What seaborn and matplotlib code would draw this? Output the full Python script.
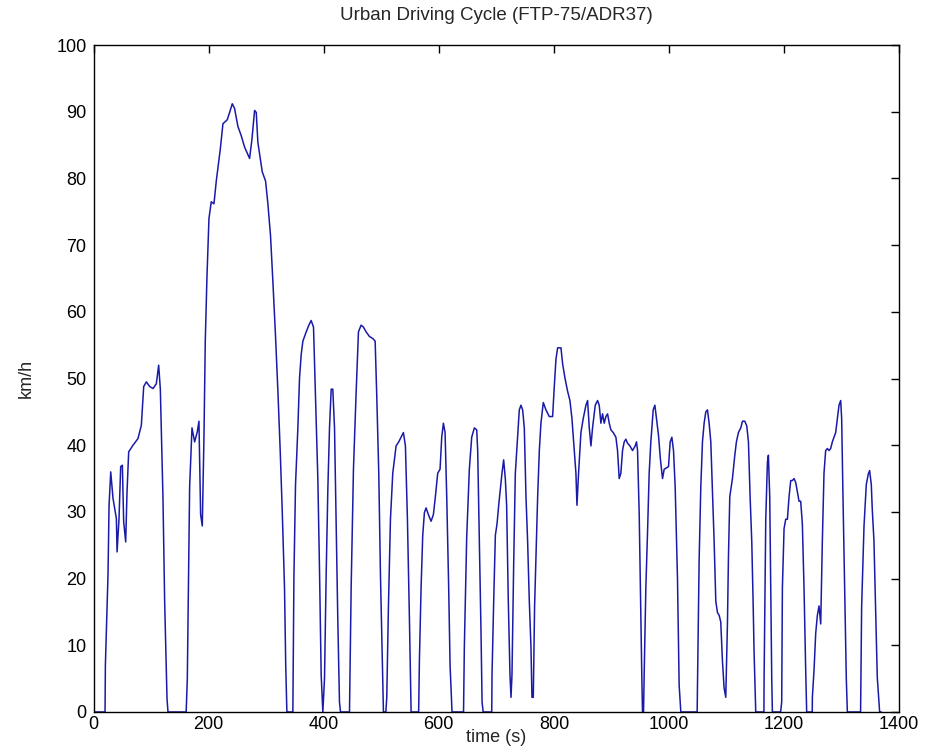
import matplotlib
matplotlib.use("Agg")
import matplotlib.pyplot as plt
import seaborn as sns
import pandas as pd

# ---- data (time in s, speed in km/h) ----
time_s = [
    0, 20, 20.6, 25.2, 27, 29.9, 33.9, 39.7, 40.9, 44.3, 47.2, 50.1, 52.4, 55.9, 58.2, 61.1,
    68.6, 77.3, 83.1, 87.2, 91.8, 97.6, 103.4, 109.1, 113.2, 116.1, 120.7, 123.6, 127.7, 129.4,
    161, 163, 165, 167, 171.1, 175.7, 180.3, 183.2, 186.1, 189, 191.9, 194.2, 197.1, 200.6,
    204.6, 209.3, 213.3, 220.3, 224.9, 232.4, 236.5, 241.1, 245.1, 250.9, 256.7, 262.5, 271.2,
    275.2, 279.9, 282.8, 285.6, 289.7, 293.2, 299, 303, 307.6, 311.7, 316.3, 320.4, 324.4,
    327.9, 331.9, 334, 336,
    346.4, 348.2, 351, 355.1, 358, 360.9, 363.8, 366.7, 369.6, 374.2, 378.2, 382.3, 385.2,
    389.8, 392.7, 395.6, 398.5, 401.4, 404.3, 407.2, 410.1, 413, 415.8, 418.8, 421.6, 424.5,
    427.4, 429.2,
    444.8, 447.7, 451.7, 456.4, 460.4, 465, 469.1, 473.7, 479.5, 485.3, 489.4, 492.2, 495.7,
    498.6, 501.5, 503.8,
    508, 509.6, 512.5, 516, 520, 525.8, 530.4, 534.5, 538.5, 542, 545.5, 549, 551.9,
    565, 566.3, 569.2, 572.1, 575, 577.9, 581.9, 586.6, 590.6, 594.1, 598.1, 602.2, 605.1,
    608, 610.9, 613.8, 617.2, 619.6, 623,
    643, 644.4, 648.5, 653.1, 657.2, 661.8, 665.9, 667.6, 670.5, 673.4, 675.2, 677.1,
    692, 692.5, 695.4, 698.3, 701.2, 704.1, 706.9, 709.8, 712.7, 715.6, 717.9, 720.8, 723.7,
    725.5, 727.2, 730.1, 733, 737, 739.9, 742.8, 745.7, 748.6, 751.5, 754.4, 757.3, 760.2,
    761.9, 764.2, 766.5, 768.9, 771.8, 774.7, 777.5, 781.6, 786.2, 792, 797.8, 800.7, 803.6,
    806.5, 812.3, 815.2, 819.2, 823.8, 827.9, 831.4, 835.4, 838.3, 840.1, 842.9, 847, 851,
    855.7, 858.6, 861.5, 864.4, 867.2, 871.9, 875.9, 878.8, 881.7, 884.6, 887.5, 890.4,
    893.3, 896.2, 899.1, 903.1, 907.8, 910.6, 913.5, 916.4, 919.3, 922.2, 925.1, 928, 932.1,
    936.7, 941.3, 943.6, 945.4, 948.3, 951.2, 952.9, 954, 955.8, 956.9, 959.8, 962.7, 965.6,
    968.5, 972.6, 975.5, 978.3, 981.8, 985, 988.8, 991.7, 995.7, 999.2, 1002.1, 1005, 1007.9,
    1010.8, 1014.8, 1017.7, 1020.6,
    1049, 1049.5, 1052.4, 1055.3, 1058.2, 1061.1, 1064, 1066.9, 1069.8, 1072.7, 1075.6,
    1078.5, 1081.4, 1084.3, 1087.2, 1090, 1092.9, 1095.8, 1098.7, 1101.6, 1103.4, 1105.7,
    1110.3, 1114.4, 1117.2, 1120.7, 1124.8, 1127.7, 1131.7, 1135.2, 1138.1, 1141, 1143.9,
    1146.2, 1147.9, 1150.8,
    1165, 1165.3, 1168.2, 1171.1, 1172.8, 1175.1, 1176.8, 1178.6, 1179.7,
    1194, 1195.9, 1197.1, 1200, 1202.9, 1205.8, 1208.7, 1211.6, 1214.4, 1217.4, 1220.3,
    1223.1, 1226, 1228.9, 1231.8, 1234.7, 1237.6, 1239.3,
    1249, 1249.2, 1252.1, 1255, 1257.9, 1260.8, 1263.7, 1266.5, 1269.4, 1272.3, 1275.2,
    1278.1, 1281, 1283.9, 1286.8, 1289.7, 1292.6, 1295.5, 1298.4, 1300.1, 1302.4, 1305.3,
    1308.2, 1310,
    1333, 1334.8, 1338.9, 1342.9, 1346.4, 1348.7, 1351.6, 1353.3, 1356.2, 1359.1, 1362,
    1364.9, 1366.1, 1369,
]

speed_kmh = [
    0, 0, 7, 20.7, 31, 36, 32, 29, 24, 29, 36.8, 37, 28.5, 25.5, 33, 39,
    40, 41, 43, 48.8, 49.5, 48.8, 48.5, 49.2, 52, 48.4, 32, 16.6, 2, 0,
    0, 5, 20, 33.7, 42.6, 40.5, 42, 43.6, 29.6, 27.9, 41.2, 55.6, 65.2, 74,
    76.5, 76.2, 79.6, 84.4, 88.2, 88.8, 89.9, 91.2, 90.5, 87.8, 86.4, 84.7, 83,
    85.8, 90.2, 89.9, 85.4, 83, 81, 79.6, 76.2, 71.4, 64.5, 56.3, 48.1, 39.2,
    30.3, 18.6, 7, 0,
    0, 20, 34, 42.6, 50.1, 53.6, 55.6, 56.3, 57, 58, 58.7, 57.7, 48.8,
    35, 21.4, 5.6, 0, 5, 20.7, 33.4, 42.6, 48.4, 48.4, 42.6, 28.9, 13.8,
    1.5, 0,
    0, 18.6, 36.4, 48, 57, 58, 57.7, 57, 56.3, 56, 55.6, 47.4, 35.8,
    20.7, 9, 0,
    0, 2.2, 15.9, 28.9, 35.8, 39.9, 40.5, 41.2, 41.9, 39.9, 28.9, 13.8, 0,
    0, 7.7, 18.6, 26.5, 29.9, 30.6, 29.6, 28.6, 29.6, 32.3, 35.8, 36.4, 41.2,
    43.3, 41.9, 32.3, 18.6, 7, 0,
    0, 9.7, 26.2, 36.4, 41.2, 42.6, 42.3, 39.2, 25.5, 11.8, 1.5, 0,
    0, 5.6, 16.6, 26.5, 28.2, 31, 33.4, 35.8, 37.8, 35, 31, 16.6, 5.6,
    2.2, 5.6, 22, 35.8, 41.2, 45.3, 46, 45.3, 42.6, 32.3, 25.5, 16.6, 9.7,
    2.2, 2.2, 15.9, 23.4, 32.3, 39.2, 43.3, 46.4, 45.3, 44.3, 44.3, 48.8, 52.9,
    54.6, 54.6, 52.2, 50.1, 48.1, 46.7, 44, 39.2, 35.8, 31, 35.8, 41.9, 44,
    46, 46.7, 42.6, 39.9, 42.6, 46, 46.7, 46, 43.3, 44.7, 43.3, 44.3,
    44.7, 43.3, 42.3, 41.9, 41.2, 39.2, 35, 35.8, 39.2, 40.5, 40.9, 40.3, 39.9,
    39.2, 39.9, 40.5, 39.2, 29.6, 13.8, 4.9, 0, 0, 5.6, 18.6, 26.8, 35.8,
    40.5, 45.3, 46, 44, 41.5, 38, 35, 36.4, 36.6, 36.8, 40.5, 41.2, 39.2,
    33.7, 20, 4, 0,
    0, 3.6, 22.7, 33.7, 40.5, 43.3, 45, 45.3, 43.3, 40.5, 33,
    25.5, 16.6, 14.9, 14.5, 13.5, 7.7, 3.6, 2.2, 13.2, 23.4, 32.3,
    35, 38.5, 40.5, 41.9, 42.6, 43.6, 43.6, 42.9, 40.5, 32.3, 25.5,
    16.6, 9, 0,
    0, 4.9, 28.9, 37.5, 38.5, 32.3, 18.6, 4.9, 0,
    0, 1.5, 18.6, 27.5, 28.9, 28.9, 32.3, 34.7, 34.7, 35, 34.4,
    33, 31.6, 31.6, 28.2, 18.6, 6.3, 0,
    0, 2.2, 6.3, 11.8, 14.5, 15.9, 13.2, 25.5, 35.8, 39.2, 39.5,
    39.2, 39.5, 40.5, 41.2, 41.9, 44, 46, 46.7, 44, 32.3, 18.6,
    4.9, 0,
    0, 15.7, 27.8, 34.1, 35.7, 36.2, 34.1, 30.4, 25.7, 15.2, 5.2,
    1.5, 0, 0,
]

x_ticks = [0, 200, 400, 600, 800, 1000, 1200, 1400]
y_ticks = [0, 10, 20, 30, 40, 50, 60, 70, 80, 90, 100]

title_text = "Urban Driving Cycle (FTP-75/ADR37)"
x_label = "time (s)"
y_label = "km/h"

df = pd.DataFrame({"time": time_s, "speed": speed_kmh})

sns.set_style("white")
fam = ["Liberation Sans", "DejaVu Sans"]
plt.rcParams["font.family"] = fam

fig = plt.figure(figsize=(9.26, 7.46), dpi=100)
ax = fig.add_axes([0.101, 0.0456, 0.870, 0.894])

sns.lineplot(data=df, x="time", y="speed", ax=ax, estimator=None, sort=False,
             color="#1a1aa8", linewidth=1.1)

ax.set_xlim(0, 1400)
ax.set_ylim(0, 100)
ax.set_xticks(x_ticks)
ax.set_yticks(y_ticks)
ax.set_xticklabels([str(v) for v in x_ticks])
ax.set_yticklabels([str(v) for v in y_ticks])
ax.tick_params(direction="in", length=6, width=1, top=True, right=True,
               labelsize=13, colors="black")
ax.tick_params(axis="x", pad=3)
ax.tick_params(axis="y", pad=5)
for s in ax.spines.values():
    s.set_color("black")
    s.set_linewidth(1.0)

ax.set_title(title_text, fontsize=13.5, pad=18)
ax.set_xlabel(x_label, fontsize=13)
ax.xaxis.set_label_coords(0.5, -0.038)
ax.xaxis.label.set_va("center")
ax.set_ylabel(y_label, fontsize=13)
ax.yaxis.set_label_coords(-0.073, 0.5)

fig.savefig("out.png", dpi=100)
